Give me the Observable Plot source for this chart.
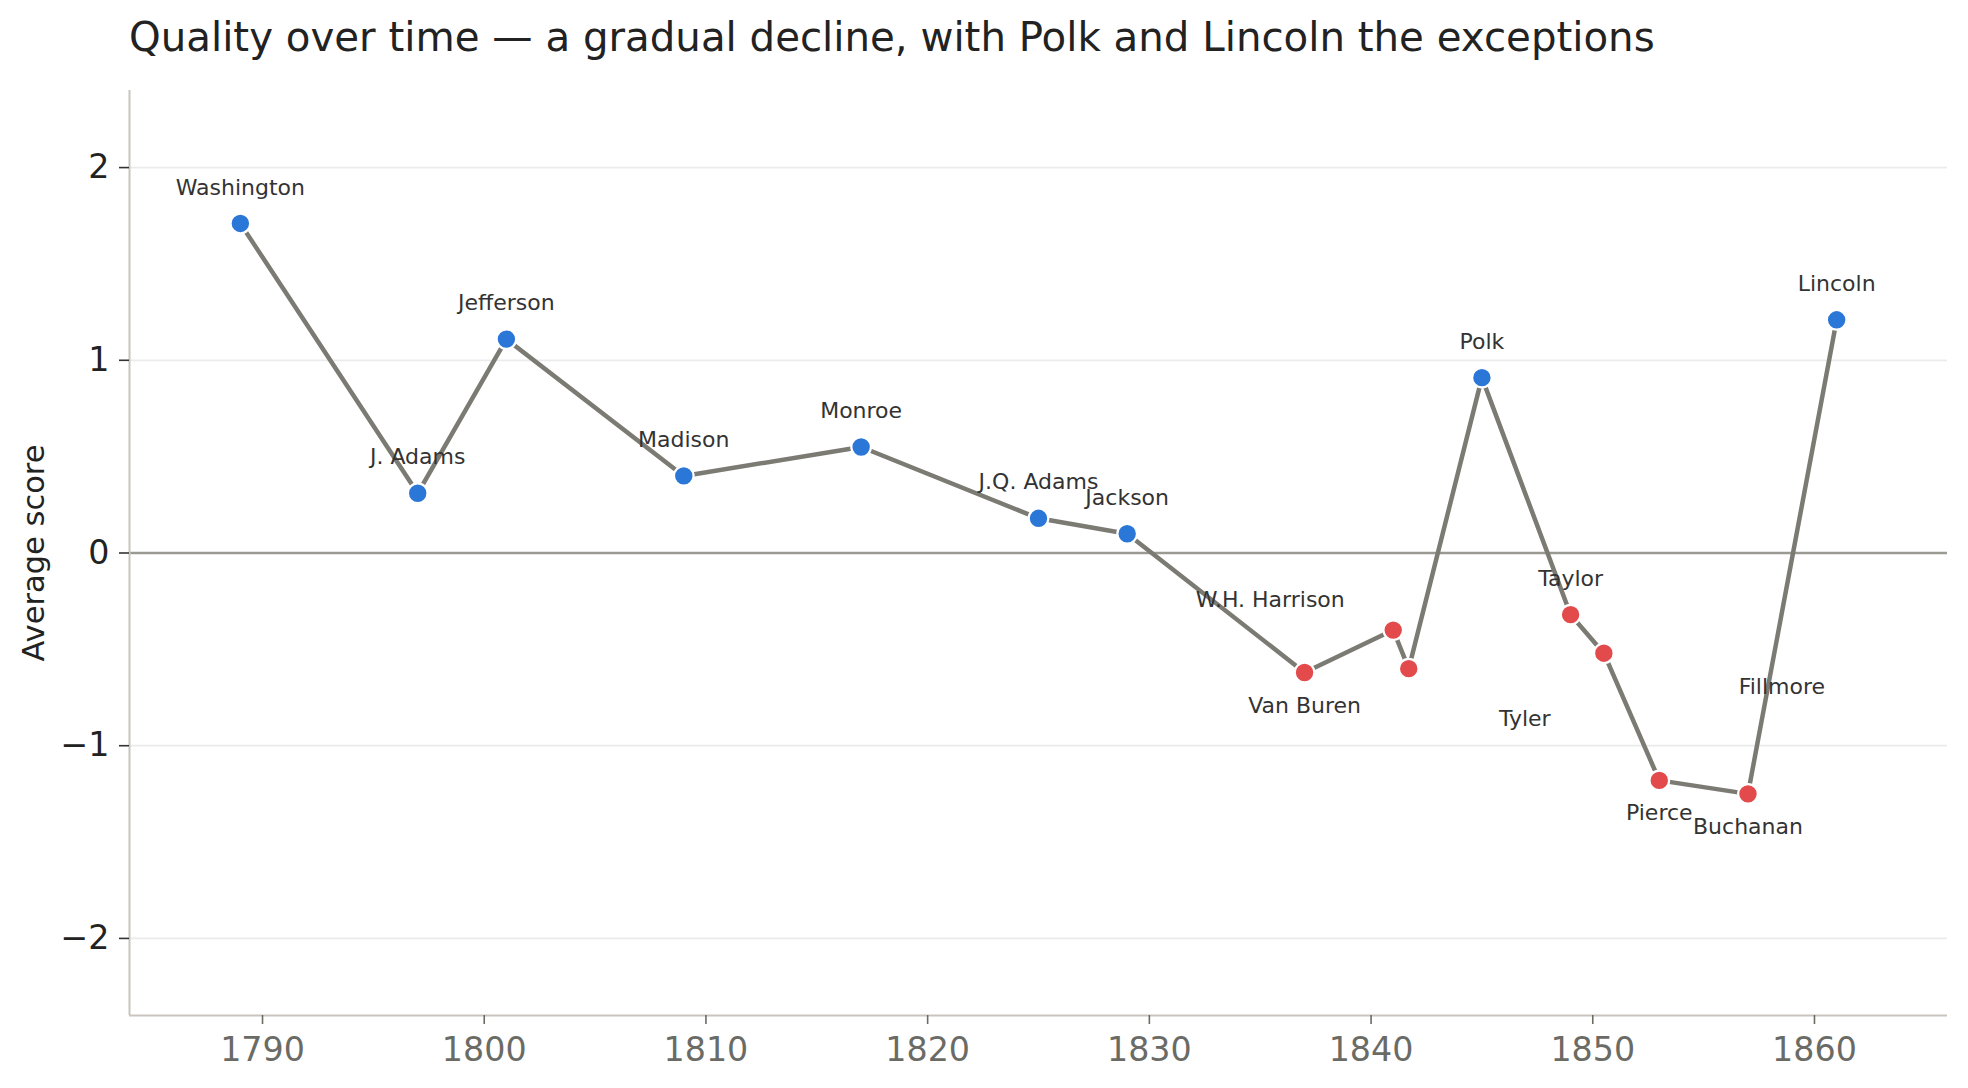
<!DOCTYPE html>
<html><head><meta charset="utf-8">
<script src="https://cdn.jsdelivr.net/npm/d3@7"></script>
<script src="https://cdn.jsdelivr.net/npm/@observablehq/plot@0.6"></script>
<style>
html,body{margin:0;padding:0;background:#fff;}
#title{box-sizing:border-box;height:72px;padding:18px 0 0 129px;font-family:"DejaVu Sans";font-size:40.3px;line-height:40px;color:#222;white-space:nowrap;}
#chart svg{display:block;}
</style></head><body>
<div id="title">Quality over time — a gradual decline, with Polk and Lincoln the exceptions</div>
<div id="chart"></div>
<script>
const presidents = ["Washington","J. Adams","Jefferson","Madison","Monroe","J.Q. Adams","Jackson","Van Buren","W.H. Harrison","Tyler","Polk","Taylor","Fillmore","Pierce","Buchanan","Lincoln"];
const years  = [1789, 1797, 1801, 1809, 1817, 1825, 1829, 1837, 1841, 1841.7, 1845, 1849, 1850.5, 1853, 1857, 1861];
const scores = [1.71, 0.31, 1.11, 0.40, 0.55, 0.18, 0.10, -0.62, -0.40, -0.60, 0.91, -0.32, -0.52, -1.18, -1.25, 1.21];
const xTicks = [1790, 1800, 1810, 1820, 1830, 1840, 1850, 1860];
const yTicks = [-2, -1, 0, 1, 2];
const xDomain = [1784, 1866];
const yDomain = [-2.4, 2.4];
// label offsets (pixels) relative to each point
const labelDx = [0, 0, 0, 0, 0, 0, 0, 0, -123, 116, 0, 0, 178, 0, 0, 0];
const labelDy = [-36, -36, -36, -36, -36, -36, -36, 33, -30, 50, -36, -36, 34, 33, 33, -36];

const BLUE = "#2b77d8", RED = "#e34a4c";
const data = presidents.map((name, i) => ({name, year: years[i], score: scores[i], i}));
const minus = d => d < 0 ? "\u2212" + Math.abs(d) : String(d);

const labelMarks = data.map(d => Plot.text([d], {
  x: "year", y: "score", text: "name",
  dx: labelDx[d.i], dy: labelDy[d.i],
  fontSize: 22, fill: "#333", textAnchor: "middle"
}));

const chart = Plot.plot({
  width: 1968,
  height: 1016,
  marginTop: 18,
  marginBottom: 73,
  marginLeft: 129,
  marginRight: 21,
  style: {fontFamily: "DejaVu Sans", background: "#fff", overflow: "visible"},
  x: {domain: xDomain},
  y: {domain: yDomain},
  marks: [
    Plot.gridY(yTicks.filter(t => t !== 0), {stroke: "#ebebeb", strokeOpacity: 1, strokeWidth: 1.8}),
    Plot.ruleY([0], {stroke: "#9b9a92", strokeWidth: 2.6}),
    Plot.ruleX([xDomain[0]], {stroke: "#c9c5be", strokeWidth: 2}),
    Plot.ruleY([yDomain[0]], {stroke: "#c9c5be", strokeWidth: 2}),
    Plot.axisX({ticks: xTicks, tickFormat: d => String(d), tickSize: 9, tickPadding: 13, fontSize: 33.3, fill: "#6b6b66", stroke: "#6b6b66", strokeWidth: 1.6, label: null}),
    Plot.axisY({ticks: yTicks, tickFormat: minus, tickSize: 10, tickPadding: 10, fontSize: 33.3, fill: "#222", stroke: "#333", strokeWidth: 1.6, label: null}),
    Plot.text(["Average score"], {frameAnchor: "left", rotate: -90, dx: -86, lineAnchor: "bottom", textAnchor: "middle", fontSize: 30.5, fill: "#222"}),
    Plot.line(data, {x: "year", y: "score", stroke: "#7b7a73", strokeWidth: 4.5}),
    Plot.dot(data, {filter: d => d.score >= 0, x: "year", y: "score", r: 9.8, fill: BLUE, stroke: "white", strokeWidth: 2.2}),
    Plot.dot(data, {filter: d => d.score < 0, x: "year", y: "score", r: 9.8, fill: RED, stroke: "white", strokeWidth: 2.2}),
    ...labelMarks
  ]
});
document.getElementById("chart").appendChild(chart);
</script>
</body></html>
